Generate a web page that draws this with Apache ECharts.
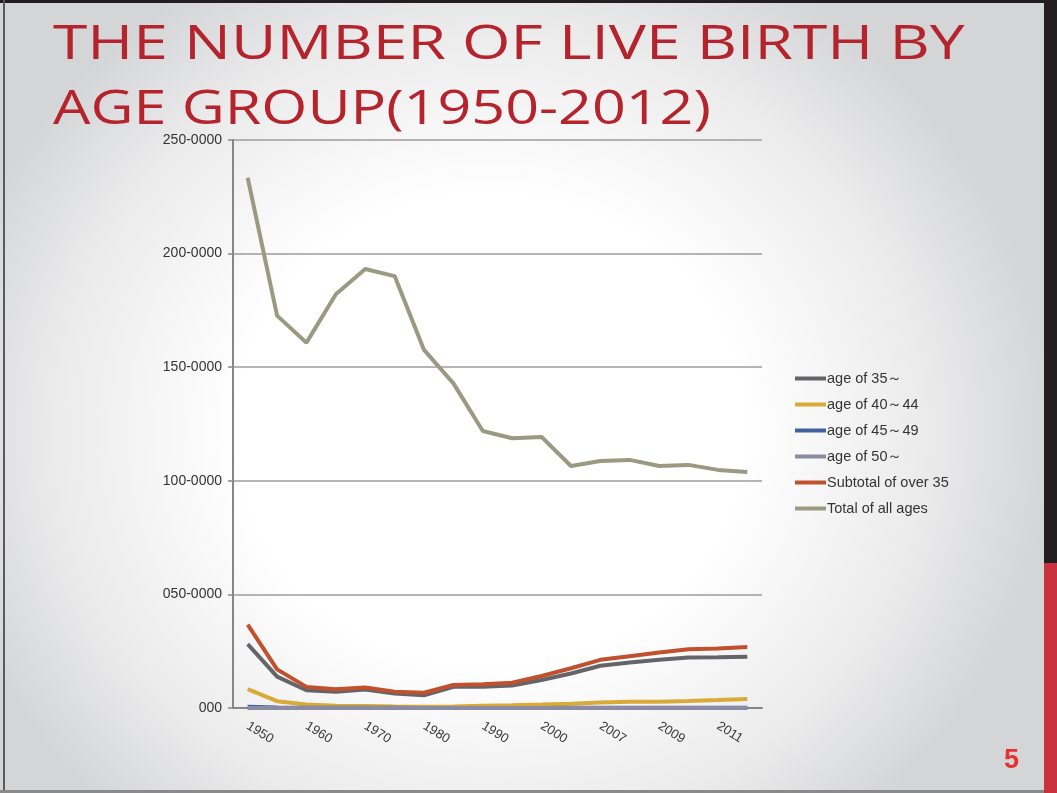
<!DOCTYPE html>
<html>
<head>
<meta charset="utf-8">
<script src="https://cdn.jsdelivr.net/npm/echarts@6/dist/echarts.min.js"></script>
<style>
  html, body { margin: 0; padding: 0; }
  #slide {
    position: relative;
    width: 1057px;
    height: 793px;
    overflow: hidden;
    background: radial-gradient(ellipse 560px 520px at 490px 430px, #ffffff 45%, #ebebec 78%, #d4d5d7 100%);
  }
  #chart { position: absolute; left: 0; top: 0; width: 1057px; height: 793px; }
</style>
</head>
<body>
<div id="slide"><div id="chart"></div></div>
<script>
// 年份（横轴分类）
const years = ['1950', '1955', '1960', '1965', '1970', '1975', '1980', '1985', '1990',
  '1995', '2000', '2005', '2007', '2008', '2009', '2010', '2011', '2012']
// 纵轴刻度文字
const yTickLabels = ['000', '050-0000', '100-0000', '150-0000', '200-0000', '250-0000']
const titleLines = ['THE NUMBER OF LIVE BIRTH BY', 'AGE GROUP(1950-2012)']
const seriesNames = ['age of 35～', 'age of 40～44', 'age of 45～49', 'age of 50～',
  'Subtotal of over 35', 'Total of all ages']
// 单位：万人
const age35 = [28.1, 13.8, 7.8, 7.1, 8.1, 6.4, 5.6, 9.3, 9.3, 9.9, 12.3, 15.2, 18.6, 20.0, 21.2, 22.2, 22.3, 22.6]
const age40 = [8.3, 3.0, 1.5, 1.0, 0.9, 0.7, 0.6, 0.7, 1.0, 1.2, 1.5, 1.9, 2.4, 2.7, 2.8, 3.1, 3.5, 4.0]
const age45 = [0.5, 0.2, 0.1, 0.1, 0.1, 0.1, 0.0, 0.0, 0.0, 0.0, 0.0, 0.1, 0.1, 0.1, 0.1, 0.1, 0.1, 0.1]
const age50 = [0.0, 0.0, 0.0, 0.0, 0.0, 0.0, 0.0, 0.0, 0.0, 0.0, 0.0, 0.0, 0.0, 0.0, 0.0, 0.0, 0.0, 0.0]
const subtotal35 = [36.7, 17.0, 9.3, 8.3, 9.0, 7.2, 6.7, 10.1, 10.4, 11.1, 14.1, 17.5, 21.2, 22.8, 24.4, 25.9, 26.2, 26.9]
const totalAll = [233.4, 172.7, 160.8, 182.1, 193.2, 190.1, 157.6, 142.9, 121.9, 118.7, 119.3, 106.5, 108.7, 109.2, 106.5, 107.0, 104.8, 103.9]

const colors = ['#646569', '#d9aa37', '#4062a0', '#8b8ba3', '#c0502e', '#9a9a82']
const seriesData = [age35, age40, age45, age50, subtotal35, totalAll]

const titleFont = '400 53px "Open Sans"'

const chart = echarts.init(document.getElementById('chart'))
chart.setOption({
  animation: false,
  color: colors,
  legend: {
    orient: 'vertical',
    left: 790,
    top: 366,
    itemGap: 11,
    itemWidth: 31,
    itemHeight: 4,
    icon: 'rect',
    data: seriesNames,
    textStyle: {
      color: '#333',
      fontFamily: 'Liberation Sans',
      fontSize: 14.5,
      padding: [0, 0, 0, -4]
    }
  },
  grid: {
    left: 233,
    right: 295,
    top: 140,
    bottom: 85
  },
  xAxis: {
    type: 'category',
    data: years,
    boundaryGap: true,
    axisLine: { lineStyle: { color: '#868686', width: 2 } },
    axisTick: { interval: 0, length: 5, lineStyle: { color: '#868686', width: 1.5 } },
    axisLabel: {
      interval: 1,
      rotate: -32,
      margin: 17,
      color: '#333',
      fontFamily: 'Liberation Sans',
      fontSize: 13
    }
  },
  yAxis: {
    type: 'value',
    min: 0,
    max: 250,
    interval: 50,
    axisLine: { show: true, lineStyle: { color: '#868686', width: 2 } },
    axisTick: { show: true, length: 5, lineStyle: { color: '#868686', width: 1.5 } },
    splitLine: { lineStyle: { color: '#9c9c9c', width: 1.5 } },
    axisLabel: {
      color: '#333',
      fontFamily: 'Liberation Sans',
      fontSize: 14,
      margin: 11,
      formatter: (v) => yTickLabels[Math.round(v / 50)]
    }
  },
  series: seriesNames.map((name, i) => ({
    name: name,
    type: 'line',
    data: seriesData[i],
    showSymbol: false,
    symbol: 'none',
    lineStyle: { width: 4 }
  })),
  graphic: [
    // slide title (stretched to the wide face of the original)
    {
      type: 'text', x: 53, y: 22, scaleX: 1.176, scaleY: 0.9, originX: 0, originY: 0,
      style: { text: titleLines[0], font: titleFont, fill: '#b5242d', verticalAlign: 'top' },
      silent: true
    },
    {
      type: 'text', x: 53, y: 87, scaleX: 1.117, scaleY: 0.9, originX: 0, originY: 0,
      style: { text: titleLines[1], font: titleFont, fill: '#b5242d', verticalAlign: 'top' },
      silent: true
    },
    // slide frame
    { type: 'rect', shape: { x: 0, y: 0, width: 1057, height: 3 }, style: { fill: '#231f20' }, silent: true },
    { type: 'rect', shape: { x: 3, y: 0, width: 2, height: 793 }, style: { fill: '#5a5a5a' }, silent: true },
    { type: 'rect', shape: { x: 1044, y: 0, width: 13, height: 563 }, style: { fill: '#231f20' }, silent: true },
    { type: 'rect', shape: { x: 1044, y: 563, width: 13, height: 230 }, style: { fill: '#c8323c' }, silent: true },
    { type: 'rect', shape: { x: 0, y: 790, width: 1044, height: 3 }, style: { fill: '#8a8a8a' }, silent: true },
    {
      type: 'text',
      left: 1004,
      top: 747,
      style: { text: '5', fill: '#e8312f', font: 'bold 27px "Liberation Sans"' },
      silent: true
    }
  ]
})
</script>
</body>
</html>
